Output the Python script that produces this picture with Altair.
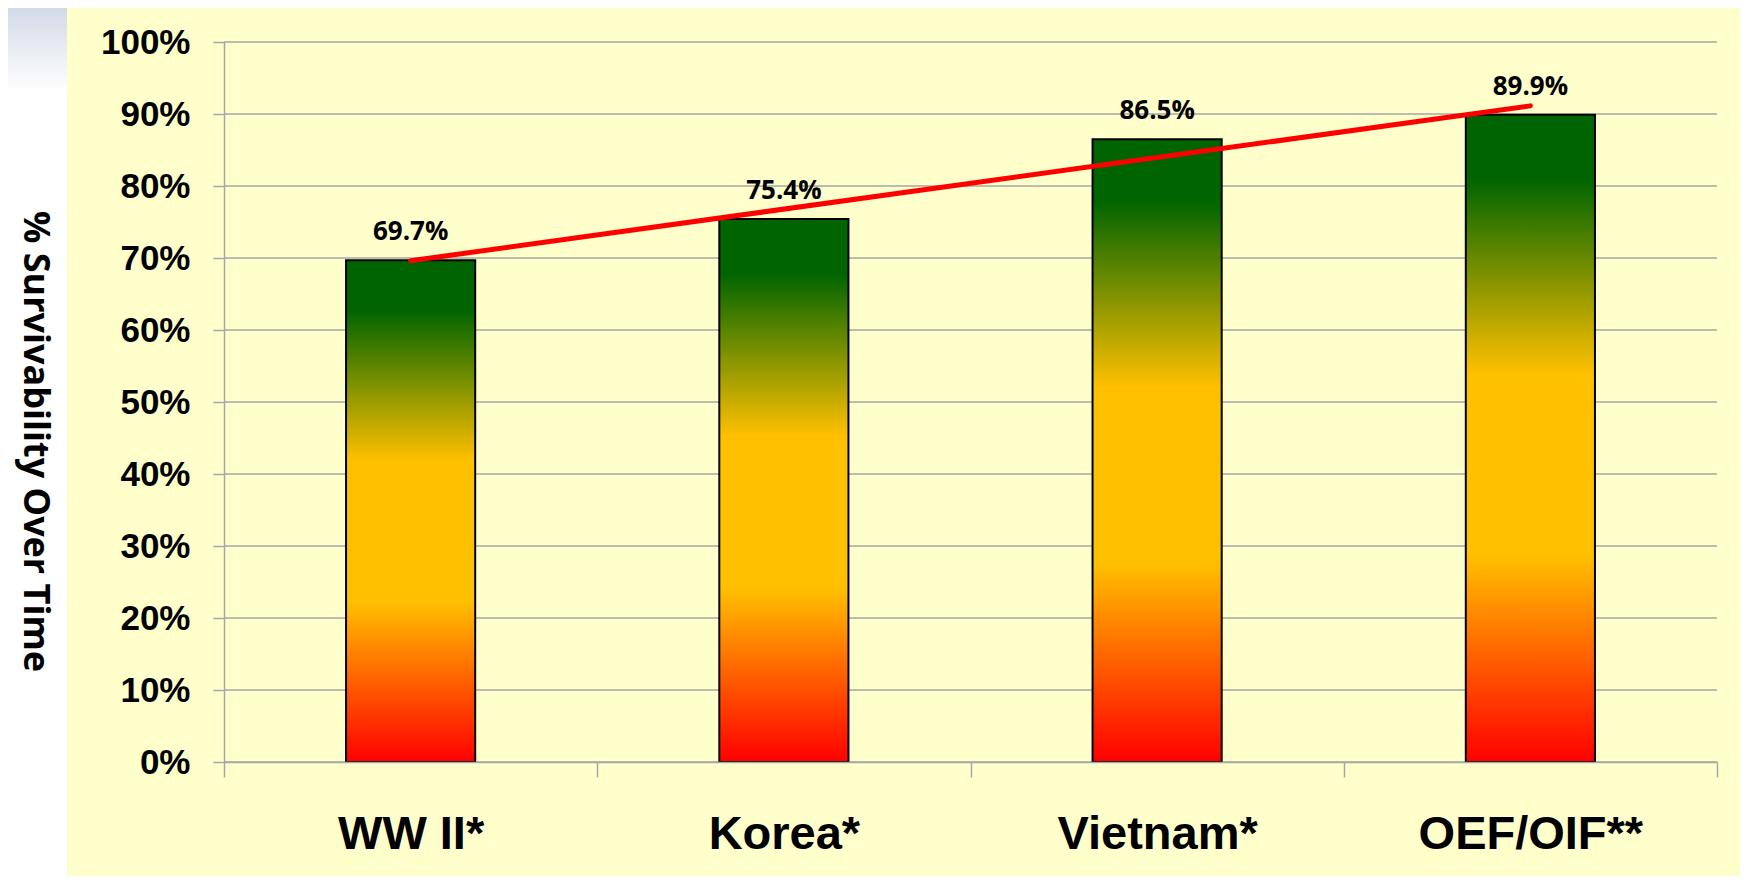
import json
import altair as alt
import pandas as pd

# ---- data ----
categories = ["WW II*", "Korea*", "Vietnam*", "OEF/OIF**"]
survival = [69.7, 75.4, 86.5, 89.9]
y_ticks = [0, 10, 20, 30, 40, 50, 60, 70, 80, 90, 100]
y_title = "% Survivability Over Time"

df = pd.DataFrame({"war": categories, "value": survival})
grid_df = pd.DataFrame({"tick": y_ticks})

GRAY = "#A6A6A6"

x_axis = alt.Axis(
    title=None, labelAngle=0, labelFont="Liberation Sans", labelFontWeight="bold",
    labelFontSize=47, labelColor="black", labelPadding=34, labelLimit=0, tickBand="extent",
    tickSize=15, tickColor=GRAY, tickWidth=1.5, domainColor=GRAY, domainWidth=1.5,
    grid=False, zindex=1,
)
y_axis = alt.Axis(
    values=y_ticks, labelExpr="datum.value + '%'", labelFont="Liberation Sans",
    labelFontWeight="bold", labelFontSize=35, labelColor="black", labelPadding=23,
    tickSize=11, tickColor=GRAY, tickWidth=1.5, domainColor=GRAY, domainWidth=1.5,
    grid=False, zindex=1,
    titleFont="Open Sans", titleFontWeight="bold", titleFontSize=36, titleColor="black",
    titleAngle=90, titleX=-190, titleY=399, titleAlign="center", titleBaseline="middle",
)

x_enc = alt.X("war:N", sort=categories, scale=alt.Scale(paddingInner=0, paddingOuter=0), axis=x_axis)
y_enc = alt.Y("value:Q", scale=alt.Scale(domain=[0, 100]), axis=y_axis, title=y_title)

gradient = alt.Gradient(
    gradient="linear",
    stops=[
        alt.GradientStop(color="#006400", offset=0),
        alt.GradientStop(color="#006400", offset=0.1),
        alt.GradientStop(color="#FFC000", offset=0.4),
        alt.GradientStop(color="#FFC000", offset=0.68),
        alt.GradientStop(color="#FF0000", offset=1),
    ],
    x1=0, x2=0, y1=0, y2=1,
)

# decorative slide background: yellow panel and blue-grey corner
one = alt.Data(values=[{}])
panel = alt.Chart(one).mark_rect(fill="#FFFFCC", stroke=None).encode(
    x=alt.value(-157), x2=alt.value(1516), y=alt.value(-34), y2=alt.value(834)
)
corner = alt.Chart(one).mark_rect(
    fill=alt.Gradient(
        gradient="linear",
        stops=[alt.GradientStop(color="#D3DAE8", offset=0), alt.GradientStop(color="#FFFFFF", offset=1)],
        x1=0, x2=0, y1=0, y2=1,
    ),
    stroke=None,
).encode(x=alt.value(-216), x2=alt.value(-157), y=alt.value(-34), y2=alt.value(50))

gridlines = alt.Chart(grid_df).mark_rule(color=GRAY, strokeWidth=1.5).encode(
    y=alt.Y("tick:Q")
)

bars = alt.Chart(df).mark_bar(
    fill=gradient, stroke="black", strokeWidth=2, width=alt.RelativeBandSize(0.346)
).encode(x=x_enc, y=y_enc)

cat_expr = json.dumps(categories) + "[datum.idx - 1]"
trend = (
    alt.Chart(df)
    .transform_window(idx="row_number()")
    .transform_regression("idx", "value", method="linear", extent=[1, len(categories)])
    .transform_calculate(war=cat_expr)
    .mark_line(color="#FF0000", strokeWidth=5, strokeCap="round")
    .encode(x=alt.X("war:N", sort=categories), y=alt.Y("value:Q"))
)

labels = (
    alt.Chart(df)
    .transform_calculate(label="format(datum.value, '.1f') + '%'")
    .mark_text(font="Open Sans", fontWeight="bold", fontSize=26, baseline="alphabetic", dy=-20, color="black")
    .encode(x=alt.X("war:N", sort=categories), y=alt.Y("value:Q"), text="label:N")
)

chart = (
    alt.layer(panel, corner, gridlines, bars, trend, labels)
    .properties(
        width=1493, height=720,
        autosize=alt.AutoSizeParams(type="none"),
        padding={"left": 216, "top": 34, "right": 23, "bottom": 114},
        background="#FFFFFF",
    )
    .configure_view(stroke=None)
)

chart.save("out.html", embed_options={"renderer": "svg", "actions": False})
